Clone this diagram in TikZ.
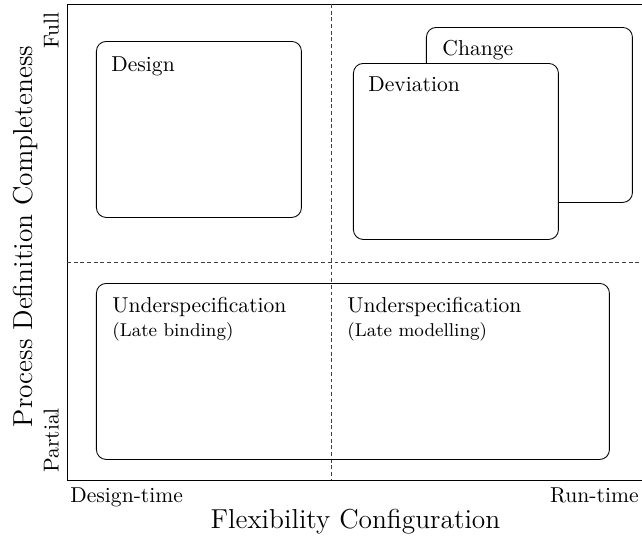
\documentclass[tikz,border=0pt]{standalone}
\usepackage{fontspec}
\usetikzlibrary{positioning,calc}
\newcommand\pxu{0.4635pt}
\tikzset{
  qbox/.style={rectangle,draw,rounded corners=4.5pt,inner sep=0pt,
               minimum width=205*\pxu,minimum height=176*\pxu,
               anchor=north west},
  qlabel/.style={inner sep=0pt,anchor=base west,font=\fontsize{10}{12}\selectfont},
  qsub/.style={inner sep=0pt,anchor=base west,font=\fontsize{8.6}{10}\selectfont},
  qsplit/.style={black!75,dash pattern=on 1.8pt off 1.3pt},
  axislbl/.style={inner sep=0pt,anchor=base,font=\fontsize{12.7}{15}\selectfont},
  ticklbl/.style={inner sep=0pt,font=\fontsize{10}{12}\selectfont},
}

\begin{document}
\begin{tikzpicture}[x=\pxu,y=-\pxu]
  \useasboundingbox (0,0) rectangle (642,540);
  %% Frame
  \coordinate (tl) at (67,4);
  \coordinate (bl) at (67,480);
  \coordinate (tr) at (642,4);
  \coordinate (br) at (642,480);
  \draw (tr) -- (tl) -- (bl) -- (br);
  %% Quadrant split
  \coordinate (vtop) at (331,4);
  \coordinate (vbot) at (331,480);
  \coordinate (hleft) at (67,262);
  \coordinate (hright) at (642,262);
  \draw[qsplit] (vtop) -- (vbot);
  \draw[qsplit] (hleft) -- (hright);
  %% Boxes
  \node[qbox] (design) at (96,41) {};
  \node[qbox,minimum width=206*\pxu,minimum height=175*\pxu] (change) at (426,27) {};
  \node[qbox,fill=white] (deviation) at (353,63) {};
  \node[qbox,minimum width=513*\pxu] (under) at (96,283) {};
  %% Box labels
  \node[qlabel] (designlbl) at ($(design.north west)+(15,30)$) {Design};
  \node[qlabel] (changelbl) at ($(change.north west)+(16,28)$) {Change};
  \node[qlabel] (deviationlbl) at ($(deviation.north west)+(15,28)$) {Deviation};
  \node[qlabel] (bindlbl) at ($(under.north west)+(16,29)$) {Underspecification};
  \node[qsub] (bindsub) at ($(bindlbl.base west)+(0,24)$) {(Late binding)};
  \node[qlabel] (modellbl) at ($(vtop|-under.north)+(16,29)$) {Underspecification};
  \node[qsub] (modelsub) at ($(modellbl.base west)+(0,24)$) {(Late modelling)};
  %% Axes
  \node[ticklbl,anchor=base west] (dtime) at (70,502) {Design-time};
  \node[ticklbl,anchor=base east] (rtime) at (639,502) {Run-time};
  \node[axislbl] (xlbl) at (355.5,528) {Flexibility Configuration};
  \node[ticklbl,rotate=90,anchor=base east] (full) at (58.5,12) {Full};
  \node[ticklbl,rotate=90,anchor=base west] (partial) at (58.5,473) {Partial};
  \node[axislbl,rotate=90] (ylbl) at (32,236.5) {Process Definition Completeness};
\end{tikzpicture}
\end{document}
